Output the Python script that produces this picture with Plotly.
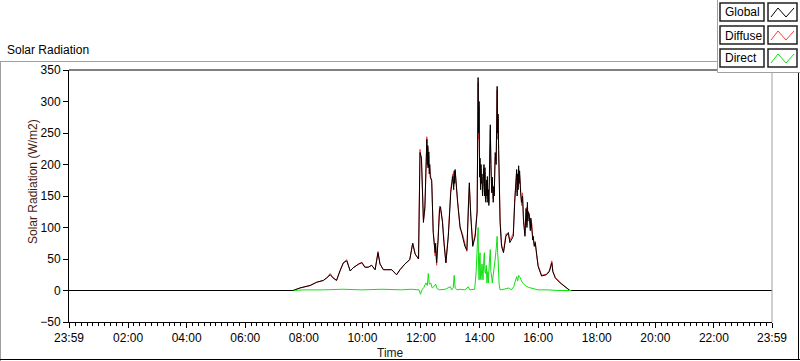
import plotly.graph_objects as go

# ---------------- data (minutes after midnight, W/m2) ----------------
times_min = [
    -1, 458, 472, 493, 506, 520, 527, 534, 540, 547,
    554, 561, 568, 575, 581, 592, 599, 605, 612, 619,
    626, 632, 636, 643, 650, 660, 670, 677, 687, 697,
    703, 708, 715, 718, 721, 725, 728, 732, 733, 734,
    735, 736, 737, 738, 739, 742, 745, 749, 750, 751,
    752, 755, 758, 760, 764, 767, 771, 776, 781, 785,
    787, 788, 789, 790, 792, 795, 800, 805, 810, 814,
    817, 819, 822, 826, 831, 835, 837, 838, 839, 840,
    841, 842, 843, 844, 845, 846, 847, 848, 849, 850,
    851, 852, 853, 854, 855, 856, 857, 858, 859, 860,
    862, 863, 864, 865, 866, 868, 869, 870, 872, 874,
    876, 877, 878, 879, 880, 882, 885, 889, 894, 899,
    902, 909, 912, 914, 916, 917, 918, 919, 920, 921,
    922, 924, 926, 928, 930, 933, 935, 936, 937, 938,
    939, 940, 942, 944, 945, 947, 949, 950, 952, 954,
    957, 960, 967, 972, 977, 983, 988, 990, 995, 1005,
    1015, 1025, 1439,
]
global_wm2 = [
    0, 0, 4, 8, 13, 16, 20, 25, 20, 16,
    31, 44, 47, 31, 36, 42, 44, 37, 37, 40,
    33, 60, 42, 33, 33, 33, 25, 33, 42, 49,
    75, 58, 50, 219, 210, 108, 133, 240, 200, 230,
    195, 220, 185, 200, 180, 175, 92, 60, 75, 50,
    44, 80, 128, 133, 108, 76, 44, 86, 156, 181,
    160, 190, 170, 192, 165, 140, 102, 86, 70, 64,
    128, 171, 118, 70, 86, 124, 338, 250, 300, 180,
    210, 160, 200, 170, 185, 150, 180, 165, 200, 150,
    195, 145, 140, 175, 150, 181, 140, 160, 135, 170,
    263, 200, 170, 155, 180, 140, 165, 150, 219, 200,
    324, 250, 280, 224, 190, 108, 70, 60, 86, 92,
    76, 86, 140, 160, 192, 150, 185, 160, 198, 170,
    190, 156, 140, 150, 110, 86, 130, 128, 100, 140,
    110, 125, 118, 95, 115, 102, 80, 86, 70, 76,
    54, 38, 23, 24, 25, 30, 44, 30, 20, 12,
    6, 0, 0,
]
diffuse_wm2 = [
    0, 0, 4, 8, 13, 16, 20, 27, 20, 16,
    31, 44, 49, 31, 36, 42, 45, 37, 37, 40,
    33, 62, 42, 33, 33, 33, 25, 33, 42, 49,
    75, 58, 50, 224, 205, 112, 128, 244, 195, 226,
    200, 214, 190, 194, 186, 170, 96, 55, 70, 48,
    40, 84, 134, 128, 112, 80, 44, 90, 160, 185,
    165, 186, 174, 188, 168, 145, 98, 90, 72, 62,
    134, 165, 122, 72, 90, 128, 330, 240, 292, 190,
    200, 168, 192, 178, 180, 156, 174, 170, 194, 156,
    188, 150, 146, 170, 156, 176, 146, 155, 140, 165,
    255, 205, 165, 160, 175, 146, 160, 155, 212, 206,
    318, 240, 272, 230, 184, 114, 74, 62, 90, 88,
    80, 90, 146, 165, 188, 156, 180, 166, 192, 176,
    184, 162, 135, 155, 114, 90, 126, 132, 104, 135,
    114, 120, 122, 99, 112, 106, 84, 82, 72, 78,
    56, 40, 24, 25, 26, 32, 47, 31, 21, 13,
    6, 0, 0,
]
direct_times_min = [
    460, 480, 520, 560, 600, 640, 680, 700, 716, 719,
    722, 726, 730, 733, 735, 737, 740, 743, 746, 750,
    753, 758, 770, 780, 783, 786, 788, 790, 794, 800,
    810, 817, 820, 830, 833, 835, 837, 838, 839, 840,
    841, 842, 843, 845, 846, 847, 849, 850, 851, 852,
    854, 855, 857, 858, 860, 862, 863, 864, 866, 868,
    869, 871, 872, 874, 876, 877, 878, 880, 882, 890,
    900, 905, 910, 912, 916, 918, 920, 922, 925, 928,
    931, 935, 940, 945, 950, 955, 960, 980, 1000, 1028,
]
direct_wm2 = [
    0, 1, 1, 2, 1, 2, 1, 2, 1, -6,
    1, 5, 12, 8, 27, 10, 12, 4, 6, 10,
    3, 1, 2, 6, 1, 4, 24, 4, 1, 2,
    1, 6, 1, 2, 30, 60, 100, 40, 17, 50,
    60, 20, 17, 42, 20, 17, 55, 60, 30, 27,
    40, 12, 30, 12, 45, 65, 30, 27, 12, 25,
    22, 40, 50, 66, 86, 60, 50, 10, 1, 2,
    4, 1, 6, 12, 22, 15, 24, 22, 17, 12,
    10, 7, 5, 4, 3, 2, 1, 1, 0, 0,
]
x_tick_vals = [-1, 120, 240, 360, 480, 600, 720, 840, 960, 1080, 1200, 1320, 1439]
x_tick_text = ["23:59", "02:00", "04:00", "06:00", "08:00", "10:00", "12:00",
               "14:00", "16:00", "18:00", "20:00", "22:00", "23:59"]
y_tick_vals = [-50, 0, 50, 100, 150, 200, 250, 300, 350]
series_names = ["Global", "Diffuse", "Direct"]
series_colors = ["#000000", "#ff3b3b", "#10e010"]

assert len(times_min) == len(global_wm2) == len(diffuse_wm2)
assert len(direct_times_min) == len(direct_wm2)

# ---------------- layout geometry (pixels) ----------------
W, H = 800, 361
L, R, T, B = 69, 772, 70, 322
FONT = "Liberation Sans"


def px(x):
    return (x - L) / (R - L)


def py(y):
    return (B - y) / (B - T)


fig = go.Figure()
fig.add_trace(go.Scatter(x=times_min, y=diffuse_wm2, mode="lines",
                         line=dict(color=series_colors[1], width=1), name="Diffuse"))
fig.add_trace(go.Scatter(x=times_min, y=global_wm2, mode="lines",
                         line=dict(color=series_colors[0], width=1), name="Global"))
fig.add_trace(go.Scatter(x=direct_times_min, y=direct_wm2, mode="lines",
                         line=dict(color=series_colors[2], width=1), name="Direct"))

shapes = []


def line(x0, y0, x1, y1, color, width=1):
    shapes.append(dict(type="line", xref="paper", yref="paper",
                       x0=px(x0), y0=py(y0), x1=px(x1), y1=py(y1),
                       line=dict(color=color, width=width)))


# outer frame
line(0, 61.5, 717, 61.5, "#a0a0a0")
line(0.5, 61.5, 0.5, 361, "#a0a0a0")
line(0, 359.5, 800, 359.5, "#000000")
line(798.5, 72, 798.5, 360, "#000000")
# plot area border
line(L, T, R, T, "#000000")
line(R, T, R, B, "#a0a0a0")

# legend block
shapes.append(dict(type="rect", xref="paper", yref="paper",
                   x0=px(717), y0=py(0), x1=px(800), y1=py(72.5),
                   fillcolor="white", line=dict(width=0), layer="above"))
line(717.5, 0, 717.5, 72.5, "#a0a0a0")
line(717.5, 72.5, 800, 72.5, "#a0a0a0")
annotations = []
row_tops = [3, 26, 49]
for name, color, top in zip(series_names, series_colors, row_tops):
    for (x0, x1) in [(720, 764), (768, 797)]:
        shapes.append(dict(type="rect", xref="paper", yref="paper",
                           x0=px(x0), y0=py(top), x1=px(x1), y1=py(top + 18),
                           fillcolor="white", line=dict(color="#202020", width=1.5),
                           layer="above"))
    path = "M {} {} L {} {} L {} {} L {} {}".format(
        px(771), py(top + 14), px(778), py(top + 5),
        px(786), py(top + 14), px(794), py(top + 5))
    shapes.append(dict(type="path", xref="paper", yref="paper", path=path,
                       line=dict(color=color, width=1), layer="above"))
    annotations.append(dict(xref="paper", yref="paper", x=px(723), y=py(top + 9.5),
                            text=name, showarrow=False, xanchor="left", yanchor="middle",
                            font=dict(family=FONT, size=12, color="#000000")))

annotations += [
    dict(xref="paper", yref="paper", x=px(5), y=py(50), text="Solar Radiation",
         showarrow=False, xanchor="left", yanchor="middle",
         font=dict(family=FONT, size=12, color="#000000")),
    dict(xref="paper", yref="paper", x=px(33), y=py(182), text="Solar Radiation (W/m2)",
         textangle=-90, showarrow=False, xanchor="center", yanchor="middle",
         font=dict(family=FONT, size=12, color="#4a1c0c")),
    dict(xref="paper", yref="paper", x=px(390), y=py(353), text="Time",
         showarrow=False, xanchor="center", yanchor="middle",
         font=dict(family=FONT, size=12, color="#1a1a1a")),
]

fig.update_layout(
    width=W, height=H,
    margin=dict(l=L, r=W - R, t=T, b=H - B, pad=0),
    paper_bgcolor="white", plot_bgcolor="white",
    showlegend=False,
    shapes=shapes, annotations=annotations,
    font=dict(family=FONT, size=12, color="#000000"),
    xaxis=dict(range=[-1, 1439], tickmode="array", tickvals=x_tick_vals,
               ticktext=x_tick_text, ticks="outside", ticklen=5, tickcolor="#000",
               showgrid=False, zeroline=False, showline=True, linecolor="#000",
               linewidth=1, tickfont=dict(family=FONT, size=12, color="#000"),
               minor=dict(ticks="outside", ticklen=3, tick0=0, dtick=12,
                          tickcolor="#000", showgrid=False)),
    yaxis=dict(range=[-50, 350], tickmode="array", tickvals=y_tick_vals,
               ticks="outside", ticklen=5, tickcolor="#000", showgrid=False,
               zeroline=False, showline=True, linecolor="#000", linewidth=1,
               tickfont=dict(family=FONT, size=12, color="#000")),
)

fig.write_html("out.html",
               config={"displayModeBar": False},
               post_script="document.body.style.margin='0px';"
                           "document.body.style.overflow='hidden';")
